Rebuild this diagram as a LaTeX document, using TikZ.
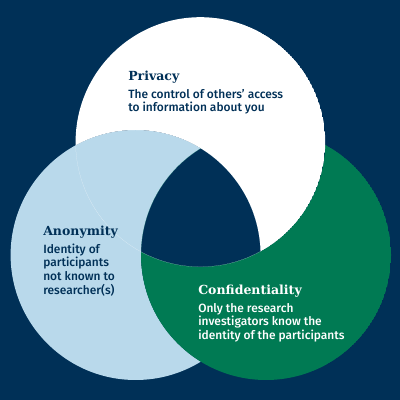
\documentclass[tikz,border=0pt]{standalone}
\usepackage{fontspec}
\usepackage{tikz}
\usetikzlibrary{positioning}
\newfontfamily\bodyfont{Fira Sans}[UprightFont=* Medium]
\newfontfamily\headfont{DejaVu Serif}
\definecolor{bgnavy}{RGB}{0, 48, 87}
\definecolor{anonblue}{RGB}{185, 217, 235}
\definecolor{confgreen}{RGB}{0, 122, 83}

\begin{document}
\begin{tikzpicture}[
    titletext/.style={font=\headfont\bfseries\fontsize{8.9}{10}\selectfont, inner sep=0pt, anchor=base west},
    bodytext/.style={font=\bodyfont\fontsize{8.5}{9.8}\selectfont, inner sep=0pt, align=left}
]
    % Background
    \fill[bgnavy] (0,0) rectangle (10,10);
    \useasboundingbox (0,0) rectangle (10,10);

    % Circles
    \def\privacycircle{(5.01,6.45) circle (3.12)}
    \def\anoncircle{(3.39,3.625) circle (3.125)}
    \def\confcircle{(6.65,3.625) circle (3.125)}

    % Each circle lies over the next one, centre stays empty
    \begin{scope}
        \clip \anoncircle;
        \fill[anonblue, even odd rule] \anoncircle \confcircle;
    \end{scope}
    \begin{scope}
        \clip \confcircle;
        \fill[confgreen, even odd rule] \confcircle \privacycircle;
    \end{scope}
    \begin{scope}
        \clip \privacycircle;
        \fill[white, even odd rule] \privacycircle \anoncircle;
    \end{scope}

    % Labels
    \node[titletext, text=bgnavy] (privtitle) at (3.2, 7.99) {Privacy};
    \node[bodytext, text=bgnavy, below=6pt of privtitle.base west, anchor=north west] (privtext)
        {The control of others’ access\\to information about you};

    \node[titletext, text=bgnavy] (anontitle) at (1.075, 4.11) {Anonymity};
    \node[bodytext, text=bgnavy, below=5.5pt of anontitle.base west, anchor=north west] (anontext)
        {Identity of\\participants\\not known to\\researcher(s)};

    \node[titletext, text=white] (conftitle) at (4.95, 2.64) {Confidentiality};
    \node[bodytext, text=white, below=6pt of conftitle.base west, anchor=north west] (conftext)
        {Only the research\\investigators know the\\identity of the participants};

\end{tikzpicture}
\end{document}
